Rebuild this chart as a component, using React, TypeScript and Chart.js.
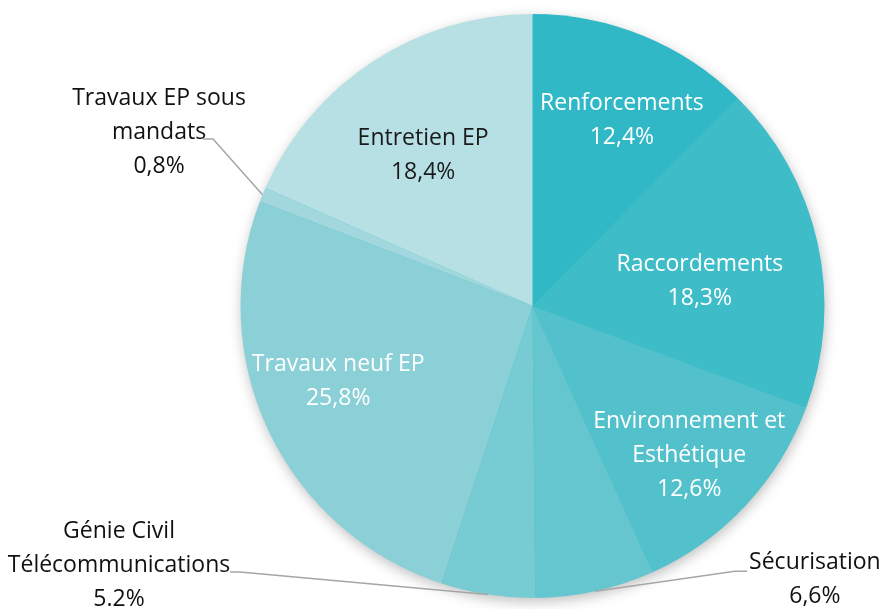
import React, { useEffect, useRef } from "react";
import { Chart, registerables } from "chart.js";

Chart.register(...registerables);

const categories = [
  "Renforcements",
  "Raccordements",
  "Environnement et Esthétique",
  "Sécurisation",
  "Génie Civil Télécommunications",
  "Travaux neuf EP",
  "Travaux EP sous mandats",
  "Entretien EP",
];
const shares = [12.4, 18.3, 12.6, 6.6, 5.2, 25.8, 0.8, 18.4];
const shareLabels = ["12,4%", "18,3%", "12,6%", "6,6%", "5.2%", "25,8%", "0,8%", "18,4%"];
const labelLines = [
  ["Renforcements"],
  ["Raccordements"],
  ["Environnement et", "Esthétique"],
  ["Sécurisation"],
  ["Génie Civil", "Télécommunications"],
  ["Travaux neuf EP"],
  ["Travaux EP sous", "mandats"],
  ["Entretien EP"],
];

const colors = ["#30b8c6", "#3ebcc8", "#53c1cc", "#66c6cf", "#77cbd3", "#8bd0d7", "#a2d8dd", "#b6e0e4"];

// label placement (inside: polar offset relative to slice mid angle; outside: offsets in radius units)
type Place =
  | { kind: "in"; dAngle: number; r: number; color: string }
  | { kind: "out"; tx: number; ty: number; ex: number; ey: number; sx: number };
const placement: Place[] = [
  { kind: "in", dAngle: 3.4, r: 0.706, color: "#ffffff" },
  { kind: "in", dAngle: 4.2, r: 0.579, color: "#ffffff" },
  { kind: "in", dAngle: 0.6, r: 0.742, color: "#ffffff" },
  { kind: "out", tx: 0.967, ty: 0.938, ex: 0.693, ey: 0.908, sx: 0.735 },
  { kind: "out", tx: -1.416, ty: 0.89, ex: -1.002, ey: 0.911, sx: -1.036 },
  { kind: "in", dAngle: 4.2, r: 0.714, color: "#ffffff" },
  { kind: "out", tx: -1.279, ty: -0.596, ex: -1.094, ey: -0.572, sx: -1.128 },
  { kind: "in", dAngle: -3.0, r: 0.636, color: "#1a1a1a" },
];

const FONT = '23px "Open Sans", sans-serif';
const LINE_H = 34;

const shadowPlugin = {
  id: "pieShadow",
  beforeDatasetsDraw(chart: any) {
    const arc = chart.getDatasetMeta(0).data[0];
    if (!arc) return;
    const { x, y, outerRadius } = arc.getProps(["x", "y", "outerRadius"], true);
    const ctx = chart.ctx;
    ctx.save();
    ctx.shadowColor = "rgba(0,0,0,0.28)";
    ctx.shadowBlur = 14;
    ctx.shadowOffsetX = 1;
    ctx.shadowOffsetY = 4;
    ctx.fillStyle = colors[0];
    ctx.beginPath();
    ctx.arc(x, y, outerRadius - 1, 0, Math.PI * 2);
    ctx.fill();
    ctx.restore();
  },
};

const labelPlugin = {
  id: "pieLabels",
  afterDatasetsDraw(chart: any) {
    const ctx = chart.ctx;
    const meta = chart.getDatasetMeta(0);
    ctx.save();
    ctx.font = FONT;
    ctx.textAlign = "center";
    ctx.textBaseline = "middle";
    meta.data.forEach((arc: any, i: number) => {
      const { x, y, startAngle, endAngle, outerRadius } = arc.getProps(
        ["x", "y", "startAngle", "endAngle", "outerRadius"],
        true
      );
      const R = outerRadius;
      const mid = (startAngle + endAngle) / 2;
      const lines = [...labelLines[i], shareLabels[i]];
      const p = placement[i];
      let cx: number, cy: number;
      if (p.kind === "in") {
        const a = mid + (p.dAngle * Math.PI) / 180;
        cx = x + Math.cos(a) * R * p.r;
        cy = y + Math.sin(a) * R * p.r;
        ctx.fillStyle = p.color;
      } else {
        cx = x + p.tx * R;
        cy = y + p.ty * R;
        const px = x + Math.cos(mid) * R;
        const py = y + Math.sin(mid) * R;
        ctx.strokeStyle = "#a6a6a6";
        ctx.lineWidth = 1.5;
        ctx.beginPath();
        ctx.moveTo(px, py);
        ctx.lineTo(x + p.ex * R, y + p.ey * R);
        ctx.lineTo(x + p.sx * R, y + p.ey * R);
        ctx.stroke();
        ctx.fillStyle = "#111111";
      }
      const top = cy - ((lines.length - 1) * LINE_H) / 2;
      lines.forEach((t, k) => ctx.fillText(t, cx, top + k * LINE_H));
    });
    ctx.restore();
  },
};

export default function App() {
  const ref = useRef<HTMLCanvasElement>(null);
  useEffect(() => {
    document.body.style.margin = "0";
    const chart = new Chart(ref.current as HTMLCanvasElement, {
      type: "pie",
      data: {
        labels: categories,
        datasets: [
          {
            data: shares,
            backgroundColor: colors,
            borderWidth: 0,
            hoverOffset: 0,
          },
        ],
      },
      options: {
        responsive: false,
        animation: false,
        events: [],
        layout: { padding: { left: 240, right: 57, top: 14, bottom: 11 } },
        plugins: { legend: { display: false }, tooltip: { enabled: false } },
      },
      plugins: [shadowPlugin, labelPlugin],
    });
    return () => chart.destroy();
  }, []);
  return (
    <div style={{ position: "absolute", left: 0, top: 0, width: 882, height: 609, background: "#ffffff" }}>
      <canvas ref={ref} width={882} height={609} style={{ display: "block" }} />
    </div>
  );
}
